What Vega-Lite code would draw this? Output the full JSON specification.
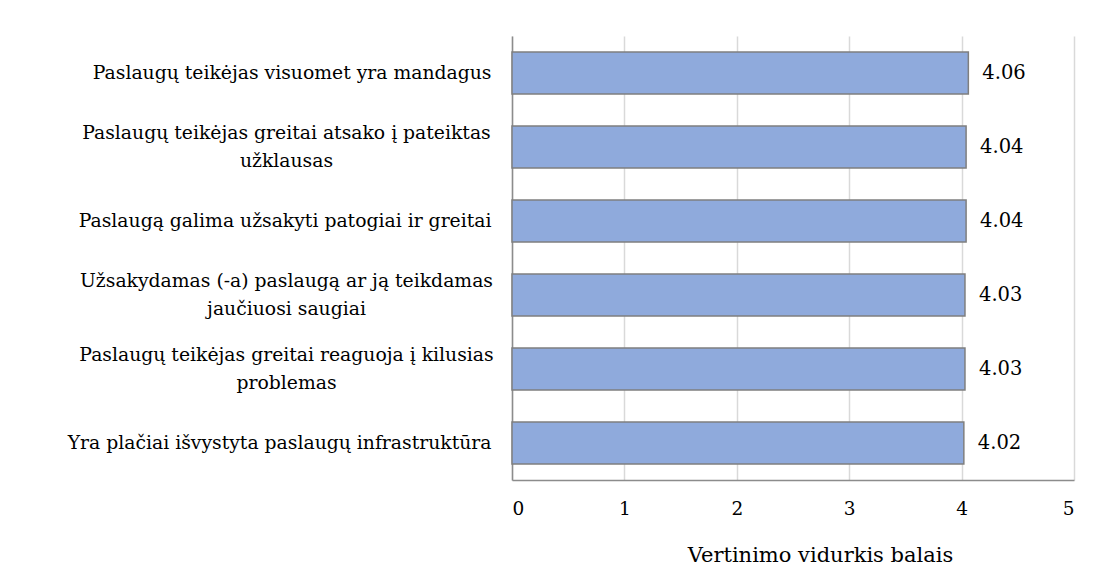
{
  "$schema": "https://vega.github.io/schema/vega-lite/v6.json",
  "autosize": {"type": "none"},
  "width": 562,
  "height": 444,
  "padding": {"left": 512, "top": 36, "right": 26, "bottom": 99},
  "background": "white",
  "config": {
    "view": {"stroke": null},
    "font": "DejaVu Serif"
  },
  "data": {"values": [
    {"statement": "Paslaugų teikėjas visuomet yra mandagus", "score": 4.06},
    {"statement": "Paslaugų teikėjas greitai atsako į pateiktas užklausas", "score": 4.04},
    {"statement": "Paslaugą galima užsakyti patogiai ir greitai", "score": 4.04},
    {"statement": "Užsakydamas (-a) paslaugą ar ją teikdamas jaučiuosi saugiai", "score": 4.03},
    {"statement": "Paslaugų teikėjas greitai reaguoja į kilusias problemas", "score": 4.03},
    {"statement": "Yra plačiai išvystyta paslaugų infrastruktūra", "score": 4.02}
  ]},
  "encoding": {
    "y": {
      "field": "statement", "type": "nominal", "sort": null,
      "scale": {"paddingInner": 0.43, "paddingOuter": 0.215},
      "axis": {
        "title": null, "ticks": false,
        "domainColor": "#8c8c8c", "domainWidth": 1.5,
        "labelFont": "DejaVu Serif",
        "labelFontSize": 18.8, "labelColor": "#000000", "labelLimit": 0,
        "labelLineHeight": 28, "labelOverlap": false, "labelBound": false,
        "labelBaseline": "middle",
        "labelAlign": {"condition": {"test": "length(datum.value) > 50", "value": "center"}, "value": "right"},
        "labelPadding": {"condition": {"test": "length(datum.value) > 50", "value": 226}, "value": 21},
        "labelOffset": {"condition": {"test": "length(datum.value) > 50", "value": -14}, "value": 0},
        "labelExpr": "datum.value == 'Paslaugų teikėjas greitai atsako į pateiktas užklausas' ? ['Paslaugų teikėjas greitai atsako į pateiktas', 'užklausas'] : datum.value == 'Užsakydamas (-a) paslaugą ar ją teikdamas jaučiuosi saugiai' ? ['Užsakydamas (-a) paslaugą ar ją teikdamas', 'jaučiuosi saugiai'] : datum.value == 'Paslaugų teikėjas greitai reaguoja į kilusias problemas' ? ['Paslaugų teikėjas greitai reaguoja į kilusias', 'problemas'] : datum.label"
      }
    },
    "x": {
      "field": "score", "type": "quantitative",
      "scale": {"domain": [0, 5], "nice": false},
      "axis": {
        "values": [0, 1, 2, 3, 4, 5], "format": "d",
        "ticks": false, "grid": true, "gridColor": "#d9d9d9", "gridWidth": 1.5,
        "domainColor": "#8c8c8c", "domainWidth": 1.5,
        "labelFont": "DejaVu Serif", "titleFont": "DejaVu Serif",
        "labelFontSize": 18.5, "labelColor": "#000000", "labelPadding": 19,
        "title": "Vertinimo vidurkis balais", "titleFontSize": 21, "titleFontWeight": "normal",
        "titleColor": "#000000", "titleX": 308, "titleY": 81, "titleAlign": "center",
        "titleBaseline": "alphabetic", "titleAnchor": "start"
      }
    }
  },
  "layer": [
    {"mark": {"type": "bar", "fill": "#8faadc", "stroke": "#7f7f7f", "strokeWidth": 1.5}},
    {
      "mark": {"type": "text", "align": "left", "baseline": "middle", "dx": 14, "fontSize": 19.5, "color": "#000000", "font": "DejaVu Serif"},
      "encoding": {"text": {"field": "score", "type": "quantitative", "format": ".2f"}}
    }
  ]
}
